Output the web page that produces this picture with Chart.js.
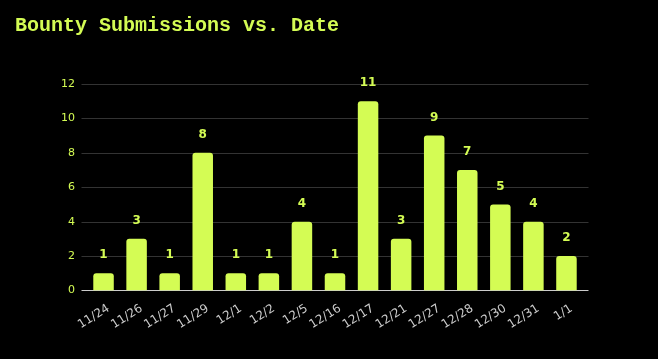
<!DOCTYPE html>
<html>
<head>
<meta charset="utf-8">
<script src="https://cdn.jsdelivr.net/npm/chart.js@4"></script>
<style>
  html, body { margin: 0; padding: 0; background: #000; }
  #wrap { width: 658px; height: 359px; }
</style>
</head>
<body>
<div id="wrap"><canvas id="chart"></canvas></div>
<script>
// --- data ---
const dates = ['11/24', '11/26', '11/27', '11/29', '12/1', '12/2', '12/5', '12/16', '12/17', '12/21', '12/27', '12/28', '12/30', '12/31', '1/1'];
const submissions = [1, 3, 1, 8, 1, 1, 4, 1, 11, 3, 9, 7, 5, 4, 2];
const yTicks = [0, 2, 4, 6, 8, 10, 12];

const lime = '#d4fc54';
const gridOverhang = 5.5;

// horizontal grid + baseline, a little wider than the bar area
const gridLines = {
  id: 'gridLines',
  beforeDatasetsDraw(chart) {
    const { ctx, chartArea, scales } = chart;
    const x0 = chartArea.left - gridOverhang;
    const x1 = chartArea.right + gridOverhang;
    ctx.save();
    ctx.lineWidth = 1;
    yTicks.forEach(v => {
      const y = Math.round(scales.y.getPixelForValue(v)) + 0.5;
      ctx.strokeStyle = v === 0 ? '#cccccc' : '#333333';
      ctx.beginPath();
      ctx.moveTo(x0, y);
      ctx.lineTo(x1, y);
      ctx.stroke();
    });
    ctx.restore();
  }
};

// draws the count above each bar
const valueLabels = {
  id: 'valueLabels',
  afterDatasetsDraw(chart) {
    const ctx = chart.ctx;
    const meta = chart.getDatasetMeta(0);
    ctx.save();
    ctx.fillStyle = lime;
    ctx.font = 'bold 12px "DejaVu Sans", sans-serif';
    ctx.textAlign = 'center';
    ctx.textBaseline = 'middle';
    meta.data.forEach((bar, i) => {
      ctx.fillText(submissions[i], bar.x, bar.y - 18);
    });
    ctx.restore();
  }
};

new Chart(document.getElementById('chart'), {
  type: 'bar',
  data: {
    labels: dates,
    datasets: [{
      data: submissions,
      backgroundColor: lime,
      borderRadius: { topLeft: 3, topRight: 3 },
      borderSkipped: 'bottom',
      categoryPercentage: 0.62,
      barPercentage: 1
    }]
  },
  options: {
    responsive: true,
    maintainAspectRatio: false,
    animation: false,
    layout: { padding: { left: 15, right: 75, bottom: 24 } },
    plugins: {
      legend: { display: false },
      tooltip: { enabled: false },
      title: {
        display: true,
        text: 'Bounty Submissions vs. Date',
        align: 'start',
        color: lime,
        font: { family: '"Liberation Mono", "Courier New", monospace', size: 20, weight: 'bold' },
        padding: { top: 14, bottom: 46 }
      }
    },
    scales: {
      x: {
        grid: { display: false },
        border: { display: false },
        ticks: {
          color: '#cccccc',
          font: { family: '"DejaVu Sans", sans-serif', size: 12 },
          minRotation: 32,
          maxRotation: 32,
          labelOffset: 5
        }
      },
      y: {
        min: 0,
        max: 12,
        afterBuildTicks(axis) { axis.ticks = yTicks.map(v => ({ value: v })); },
        afterFit(axis) { axis.width = 72; },
        grid: { display: false },
        border: { display: false },
        ticks: {
          color: lime,
          padding: 4,
          font: { family: '"DejaVu Sans", sans-serif', size: 11 }
        }
      }
    }
  },
  plugins: [gridLines, valueLabels]
});
</script>
</body>
</html>
